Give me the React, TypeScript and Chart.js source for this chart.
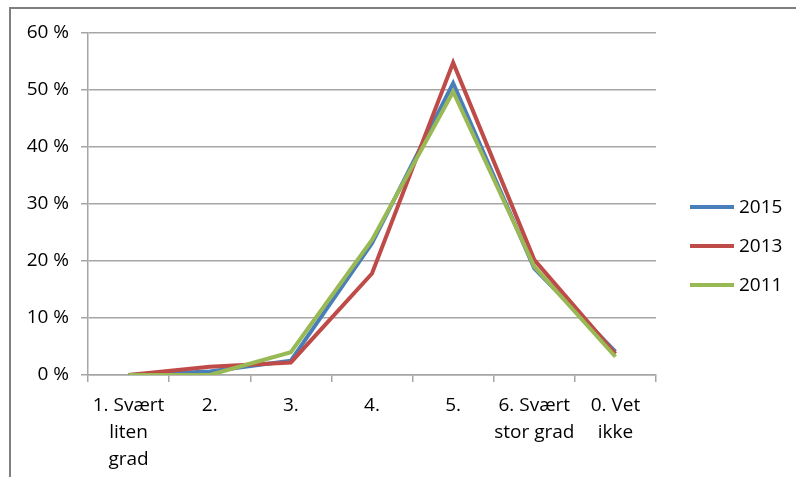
import React, { useEffect, useRef } from "react";
import { Chart, registerables } from "chart.js";

Chart.register(...registerables);

const categories: (string | string[])[] = [
  ["1. Svært", "liten", "grad"],
  "2.",
  "3.",
  "4.",
  "5.",
  ["6. Svært", "stor grad"],
  ["0. Vet", "ikke"],
];
const seriesNames = ["2015", "2013", "2011"];
const values2015 = [0, 0.6, 2.5, 23.1, 51.2, 18.7, 4.1];
const values2013 = [0, 1.45, 2.2, 17.8, 54.8, 20.2, 3.7];
const values2011 = [0, 0, 4.0, 23.7, 49.7, 19.0, 3.2];
const seriesColors = ["#4A7EBB", "#BE4B48", "#98B954"];
const yMin = 0;
const yMax = 60;
const yStep = 10;

const FONT = "'Open Sans', 'Liberation Sans', sans-serif";

const legendPlugin = {
  id: "customLegend",
  afterDraw(chart: any) {
    const { ctx, chartArea } = chart;
    const x0 = chartArea.right + 34;
    const yStart = chartArea.top + 174;
    const gap = 39;
    ctx.save();
    ctx.font = `19px ${FONT}`;
    ctx.textBaseline = "middle";
    ctx.textAlign = "left";
    chart.data.datasets.forEach((ds: any, i: number) => {
      const y = yStart + i * gap;
      ctx.strokeStyle = ds.borderColor;
      ctx.lineWidth = 4;
      ctx.lineCap = "butt";
      ctx.beginPath();
      ctx.moveTo(x0, y);
      ctx.lineTo(x0 + 44, y);
      ctx.stroke();
      ctx.fillStyle = "#000";
      ctx.fillText(ds.label, x0 + 49, y + 1);
    });
    ctx.restore();
  },
};

export default function App() {
  const ref = useRef<HTMLCanvasElement>(null);
  useEffect(() => {
    if (!ref.current) return;
    const data = [values2015, values2013, values2011];
    const chart = new Chart(ref.current, {
      type: "line",
      data: {
        labels: categories,
        datasets: seriesNames.map((name, i) => ({
          label: name,
          data: data[i],
          borderColor: seriesColors[i],
          backgroundColor: seriesColors[i],
          borderWidth: 4,
          pointRadius: 0,
          tension: 0,
          order: 2 - i,
        })),
      },
      options: {
        animation: false,
        responsive: false,
        devicePixelRatio: 1,
        layout: { padding: { left: 0, top: 33, right: 140, bottom: 0 } },
        plugins: { legend: { display: false }, tooltip: { enabled: false } },
        scales: {
          x: {
            offset: true,
            grid: {
              offset: true,
              drawOnChartArea: false,
              color: "#A6A6A6",
              tickLength: 7,
              lineWidth: 1.5,
            },
            border: { color: "#A6A6A6", width: 1.5 },
            ticks: {
              color: "#000",
              padding: 10,
              maxRotation: 0,
              autoSkip: false,
              font: { family: FONT, size: 19, lineHeight: 1.42 },
            },
            afterFit(scale: any) {
              scale.height = 102;
            },
          },
          y: {
            min: yMin,
            max: yMax,
            grid: { color: "#A6A6A6", tickLength: 7, lineWidth: 1.5 },
            border: { color: "#A6A6A6", width: 1.5 },
            ticks: {
              stepSize: yStep,
              color: "#000",
              padding: 12,
              font: { family: FONT, size: 19 },
              callback: (v: any) => `${v} %`,
            },
            afterFit(scale: any) {
              scale.width = 88;
            },
          },
        },
      },
      plugins: [legendPlugin],
    });
    return () => chart.destroy();
  }, []);
  return (
    <div
      style={{
        position: "absolute",
        left: 0,
        top: 0,
        width: 796,
        height: 477,
        background: "#fff",
        overflow: "hidden",
      }}
    >
      <div
        style={{
          position: "absolute",
          left: 9,
          top: 7,
          right: 0,
          bottom: 0,
          borderLeft: "2px solid #7F7F7F",
          borderTop: "2px solid #7F7F7F",
        }}
      />
      <canvas
        ref={ref}
        width={796}
        height={477}
        style={{ position: "absolute", left: 0, top: 0 }}
      />
    </div>
  );
}
